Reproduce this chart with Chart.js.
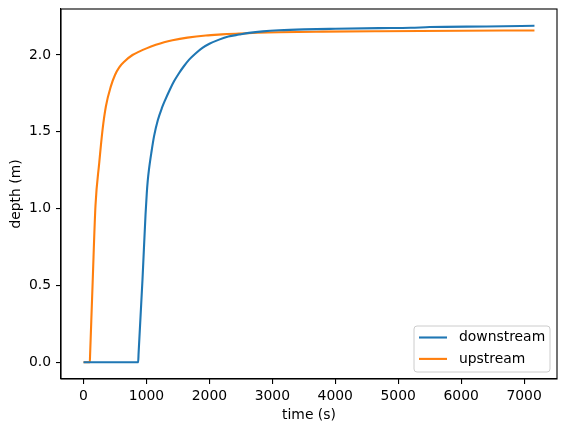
<!DOCTYPE html>
<html>
<head>
<meta charset="utf-8">
<script src="https://cdn.jsdelivr.net/npm/chart.js@4/dist/chart.umd.min.js"></script>
<style>
  html, body { margin: 0; padding: 0; background: #fff; }
  #wrap { width: 567px; height: 432px; }
</style>
</head>
<body>
<div id="wrap"><canvas id="c" width="567" height="432"></canvas></div>
<script>
// ---- data ----
const downTime  = [0, 868, 875, 937, 985, 1005, 1020, 1040, 1080, 1120, 1180, 1250, 1300, 1371, 1440, 1519, 1600, 1678, 1780, 1889, 2000, 2154, 2300, 2471, 2630, 2850, 3106, 3500, 4000, 4693, 5200, 5500, 6400, 7165];
const downDepth = [0, 0, 0.06, 0.54, 0.96, 1.10, 1.18, 1.255, 1.37, 1.47, 1.575, 1.66, 1.71, 1.774, 1.83, 1.883, 1.93, 1.97, 2.01, 2.046, 2.073, 2.10, 2.12, 2.133, 2.144, 2.154, 2.161, 2.167, 2.171, 2.175, 2.177, 2.182, 2.186, 2.19];

const upTime  = [0, 100, 104, 145, 190, 249, 302, 355, 434, 500, 567, 650, 778, 884, 1000, 1149, 1280, 1413, 1650, 1943, 2200, 2471, 3106, 3800, 4693, 6000, 7165];
const upDepth = [0, 0, 0.045, 0.52, 1.02, 1.296, 1.513, 1.665, 1.796, 1.87, 1.92, 1.958, 2.0, 2.022, 2.043, 2.066, 2.083, 2.096, 2.113, 2.127, 2.134, 2.14, 2.148, 2.152, 2.155, 2.158, 2.16];

const seriesNames = ['downstream', 'upstream'];
const xTicks = [0, 1000, 2000, 3000, 4000, 5000, 6000, 7000];
const yTicks = [0.0, 0.5, 1.0, 1.5, 2.0];
const xLabel = 'time (s)';
const yLabel = 'depth (m)';

// ---- chart ----
const FONT = { family: "'DejaVu Sans', sans-serif", size: 13.9 };
const toPts = (xs, ys) => xs.map((x, i) => ({ x: x, y: ys[i] }));

const frame = {
  id: 'frame',
  afterDatasetsDraw(chart) {
    const a = chart.chartArea, ctx = chart.ctx;
    ctx.save();
    ctx.strokeStyle = '#000';
    ctx.lineWidth = 1.1;
    ctx.strokeRect(a.left, a.top, a.right - a.left, a.bottom - a.top);
    ctx.restore();
  }
};

const boxLegend = {
  id: 'boxLegend',
  afterDraw(chart) {
    const a = chart.chartArea, ctx = chart.ctx;
    const w = 136, h = 46;
    const x0 = a.right - 7 - w, y0 = a.bottom - 7 - h;
    ctx.save();
    ctx.beginPath();
    const r = 3;
    ctx.moveTo(x0 + r, y0);
    ctx.lineTo(x0 + w - r, y0); ctx.quadraticCurveTo(x0 + w, y0, x0 + w, y0 + r);
    ctx.lineTo(x0 + w, y0 + h - r); ctx.quadraticCurveTo(x0 + w, y0 + h, x0 + w - r, y0 + h);
    ctx.lineTo(x0 + r, y0 + h); ctx.quadraticCurveTo(x0, y0 + h, x0, y0 + h - r);
    ctx.lineTo(x0, y0 + r); ctx.quadraticCurveTo(x0, y0, x0 + r, y0);
    ctx.closePath();
    ctx.fillStyle = 'rgba(255,255,255,0.8)';
    ctx.fill();
    ctx.strokeStyle = '#cccccc';
    ctx.lineWidth = 1;
    ctx.stroke();
    ctx.font = FONT.size + "px 'DejaVu Sans', sans-serif";
    ctx.textBaseline = 'middle';
    ctx.textAlign = 'left';
    chart.data.datasets.forEach((ds, i) => {
      const yy = y0 + 11.5 + i * 21.4;
      ctx.strokeStyle = ds.borderColor;
      ctx.lineWidth = 2.1;
      ctx.beginPath();
      ctx.moveTo(x0 + 5, yy);
      ctx.lineTo(x0 + 33, yy);
      ctx.stroke();
      ctx.fillStyle = '#000';
      ctx.fillText(ds.label, x0 + 45, yy);
    });
    ctx.restore();
  }
};

new Chart(document.getElementById('c'), {
  type: 'line',
  data: {
    datasets: [
      { label: seriesNames[0], data: toPts(downTime, downDepth), borderColor: '#1f77b4', backgroundColor: '#1f77b4',
        borderWidth: 2.1, pointRadius: 0, cubicInterpolationMode: 'monotone', fill: false },
      { label: seriesNames[1], data: toPts(upTime, upDepth), borderColor: '#ff7f0e', backgroundColor: '#ff7f0e',
        borderWidth: 2.1, pointRadius: 0, cubicInterpolationMode: 'monotone', fill: false }
    ]
  },
  options: {
    responsive: false,
    animation: false,
    layout: { padding: { top: 9, right: 10, left: 0, bottom: 0 } },
    plugins: { legend: { display: false }, tooltip: { enabled: false } },
    scales: {
      x: {
        type: 'linear',
        min: -358, max: 7523,
        afterFit(s) { s.height = 53; s.paddingLeft = 0; s.paddingRight = 0; },
        afterBuildTicks(s) { s.ticks = xTicks.map(v => ({ value: v })); },
        grid: { display: true, drawOnChartArea: false, drawTicks: true, tickLength: 5, color: '#000', lineWidth: 1.1 },
        border: { display: true, color: '#000', width: 1.1 },
        ticks: { font: FONT, color: '#000', padding: 4, maxRotation: 0, callback: v => String(v) },
        title: { display: true, text: xLabel, font: FONT, color: '#000', padding: { top: 0, bottom: 8.7 } }
      },
      y: {
        type: 'linear',
        min: -0.1095, max: 2.2995,
        afterFit(s) { s.width = 61; s.paddingTop = 0; s.paddingBottom = 0; },
        afterBuildTicks(s) { s.ticks = yTicks.map(v => ({ value: v })); },
        grid: { display: true, drawOnChartArea: false, drawTicks: true, tickLength: 5, color: '#000', lineWidth: 1.1 },
        border: { display: true, color: '#000', width: 1.1 },
        ticks: { font: FONT, color: '#000', padding: 5, callback: v => Number(v).toFixed(1) },
        title: { display: true, text: yLabel, font: FONT, color: '#000', padding: { top: 8.2, bottom: 0 } }
      }
    }
  },
  plugins: [frame, boxLegend]
});
</script>
</body>
</html>
